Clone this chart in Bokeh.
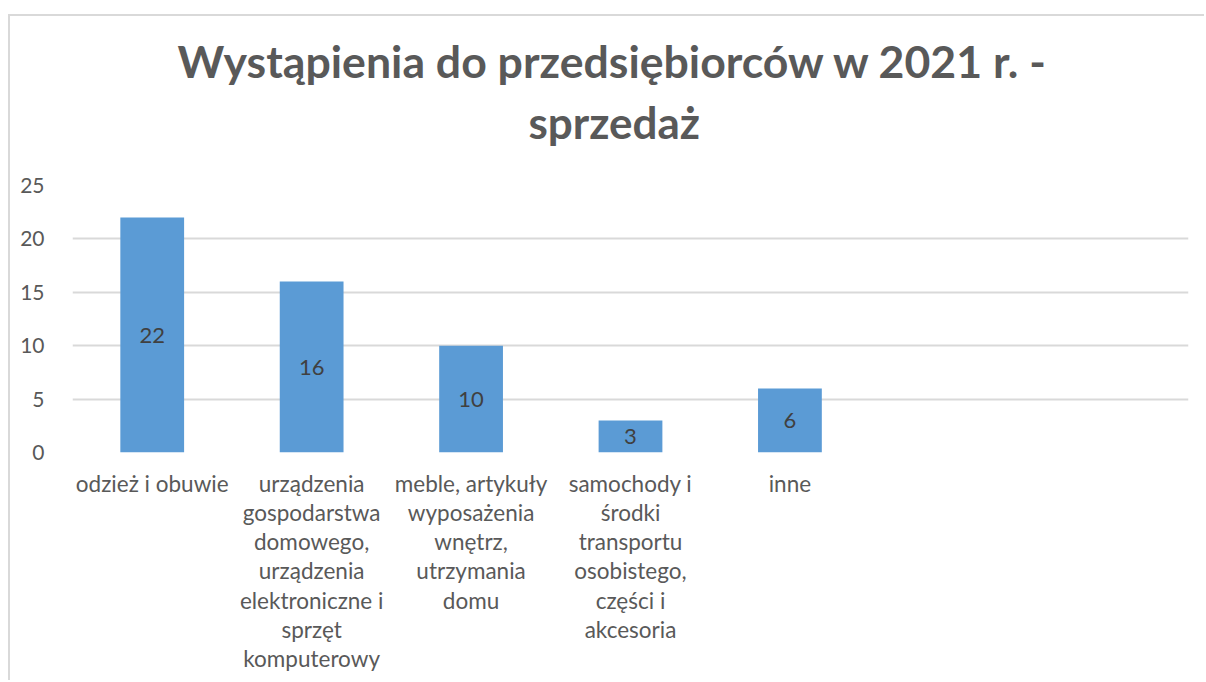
from bokeh.plotting import figure
from bokeh.models import Range1d, FixedTicker, Title
from bokeh.embed import file_html
from bokeh.resources import INLINE

title_lines = ["Wystąpienia do przedsiębiorców  w 2021 r. -", "sprzedaż"]
categories = [
    ["odzież i obuwie"],
    ["urządzenia", "gospodarstwa", "domowego,", "urządzenia", "elektroniczne i", "sprzęt", "komputerowy"],
    ["meble, artykuły", "wyposażenia", "wnętrz,", "utrzymania", "domu"],
    ["samochody i", "środki", "transportu", "osobistego,", "części i", "akcesoria"],
    ["inne"],
    [],
    [],
]
values = [22, 16, 10, 3, 6, None, None]
y_ticks = [0, 5, 10, 15, 20, 25]

FONT = "Lato"
GRID = "#d9d9d9"
TXT = "#595959"
BAR = "#5B9BD5"

OX, OY = 10, 16          # canvas offset inside the window (chart border)
W, H = 1206 - OX, 682 - OY
BL, BR, BT, BB = 72 - OX, 18, 185 - OY, 230
p = figure(width=W, height=H, output_backend="svg", toolbar_location=None,
           x_range=Range1d(0, len(categories)), y_range=Range1d(0, 25),
           min_border_left=BL, min_border_right=BR, min_border_top=BT, min_border_bottom=BB,
           styles={"margin-left": "8px", "margin-top": "14px",
                   "border-left": "2px solid #d9d9d9", "border-top": "2px solid #d9d9d9"})
p.outline_line_color = None
p.xgrid.visible = False
p.ygrid.grid_line_color = GRID
p.ygrid.grid_line_width = 2

p.yaxis.ticker = FixedTicker(ticks=y_ticks)
p.yaxis.axis_line_color = None
p.yaxis.major_tick_line_color = None
p.yaxis.minor_tick_line_color = None
p.yaxis.major_label_text_font = FONT
p.yaxis.major_label_text_font_size = "21px"
p.yaxis.major_label_text_color = TXT
p.yaxis.major_label_standoff = 22

centers = [i + 0.5 for i in range(len(categories))]
p.xaxis.ticker = FixedTicker(ticks=centers)
p.xaxis.major_label_overrides = {c: "\n".join(lines) for c, lines in zip(centers, categories)}
p.xaxis.axis_line_color = None
p.xaxis.major_tick_line_color = None
p.xaxis.minor_tick_line_color = None
p.xaxis.major_label_text_font = FONT
p.xaxis.major_label_text_font_size = "22.5px"
p.xaxis.major_label_text_color = TXT
p.xaxis.major_label_text_line_height = 1.085
p.xaxis.major_label_standoff = 11

# title: p.title is the outer (first) line; added panels stack outward from the plot
p.title.text = title_lines[0]
p.title.align = "left"
p.title.offset = 177 - 72
p.title.text_font = FONT
p.title.text_font_size = "44.6px"
p.title.text_font_style = "bold"
p.title.text_color = TXT
p.title.standoff = 13
# blank spacer between plot and the second title line
p.add_layout(Title(text=" ", text_font_size="1px", standoff=35), "above")
p.add_layout(Title(text=title_lines[1], align="left", offset=528 - 72, text_font=FONT,
                   text_font_size="44px", text_font_style="bold", text_color=TXT,
                   standoff=0), "above")

xs = [c for c, v in zip(centers, values) if v is not None]
vs = [v for v in values if v is not None]
p.vbar(x=xs, top=vs, width=0.4, fill_color=BAR, line_color=None)
p.text(x=xs, y=[v / 2 for v in vs], text=[str(v) for v in vs], text_align="center",
       text_baseline="middle", text_font={"value": FONT}, text_font_size="22px", text_color="#404040")

open("out.html", "w").write(file_html(p, INLINE))
